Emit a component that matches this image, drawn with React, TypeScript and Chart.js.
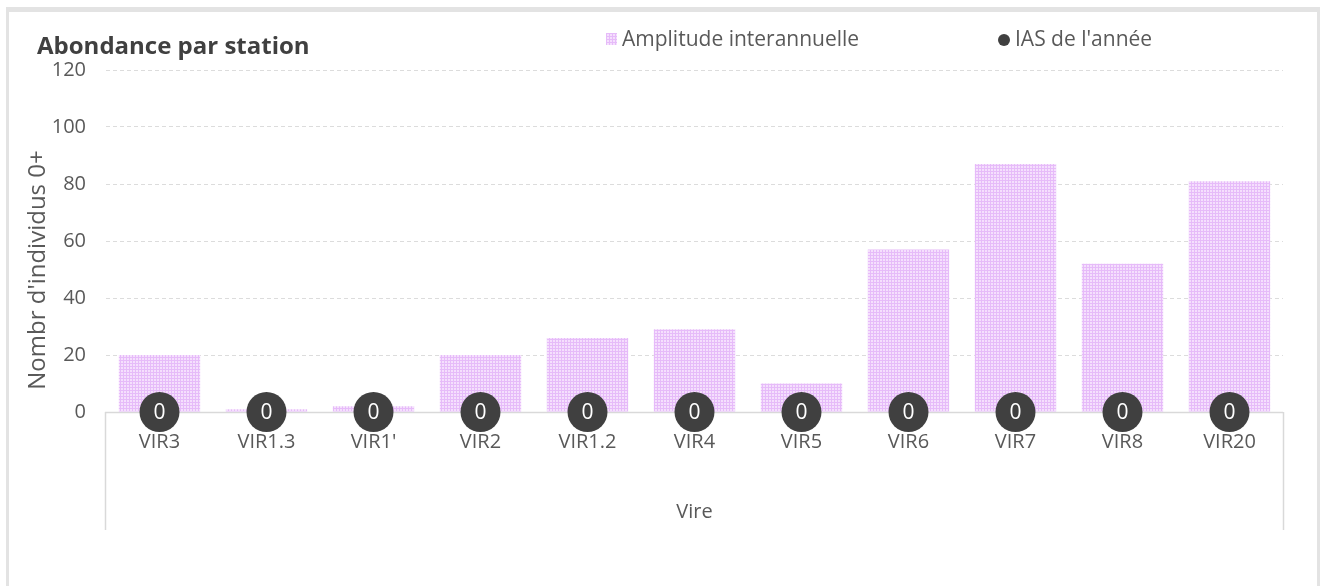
import React, { useEffect, useRef } from "react";
import { Chart, registerables } from "chart.js";

Chart.register(...registerables);

const categories = ["VIR3", "VIR1.3", "VIR1'", "VIR2", "VIR1.2", "VIR4", "VIR5", "VIR6", "VIR7", "VIR8", "VIR20"];
const amplitudeValues = [20, 1, 2, 20, 26, 29, 10, 57, 87, 52, 81];
const iasValues = [0, 0, 0, 0, 0, 0, 0, 0, 0, 0, 0];
const yTickValues = [0, 20, 40, 60, 80, 100, 120];
const chartTitle = "Abondance par station";
const xAxisTitle = "Vire";
const yAxisTitle = "Nombr d'individus 0+";
const legendLabels = ["Amplitude interannuelle", "IAS de l'année"];

const FONT = "'Open Sans', 'Noto Sans', sans-serif";
const TEXT = "#595959";
const DOT = "#404040";

function makePattern(ctx: CanvasRenderingContext2D) {
  const c = document.createElement("canvas");
  c.width = 3;
  c.height = 3;
  const p = c.getContext("2d")!;
  p.fillStyle = "#f5dffd";
  p.fillRect(0, 0, 3, 3);
  p.fillStyle = "#e6bbf9";
  p.fillRect(0, 0, 3, 1);
  p.fillRect(0, 0, 1, 3);
  return ctx.createPattern(c, "repeat")!;
}

export default function App() {
  const ref = useRef<HTMLCanvasElement>(null);

  useEffect(() => {
    document.body.style.margin = "0";
    const canvas = ref.current!;
    const ctx = canvas.getContext("2d")!;
    const pattern = makePattern(ctx);

    const decor = {
      id: "decor",
      beforeDraw(chart: any) {
        const c = chart.ctx;
        c.save();
        c.fillStyle = "#ffffff";
        c.fillRect(0, 0, chart.width, chart.height);
        c.fillStyle = "#e3e3e3";
        c.fillRect(6, 7, 1314, 5);
        c.fillRect(6, 7, 3, 600);
        c.fillRect(1317, 7, 3, 600);
        c.restore();
      },
      beforeDatasetsDraw(chart: any) {
        const c = chart.ctx;
        const a = chart.chartArea;
        const y0 = chart.scales.y.getPixelForValue(0);
        c.save();
        c.strokeStyle = "#d9d9d9";
        c.lineWidth = 1.5;
        c.beginPath();
        c.moveTo(a.left - 1, Math.round(y0) + 0.5);
        c.lineTo(a.right, Math.round(y0) + 0.5);
        c.moveTo(a.left - 0.5, y0);
        c.lineTo(a.left - 0.5, 530);
        c.moveTo(a.right + 0.5, y0);
        c.lineTo(a.right + 0.5, 530);
        c.stroke();
        c.restore();
      },
      afterDatasetsDraw(chart: any) {
        const c = chart.ctx;
        const meta = chart.getDatasetMeta(0);
        c.save();
        c.fillStyle = "#ffffff";
        c.font = `21px ${FONT}`;
        c.textAlign = "center";
        c.textBaseline = "middle";
        meta.data.forEach((pt: any, i: number) => {
          c.fillText(String(iasValues[i]), pt.x, pt.y + 1);
        });
        c.restore();
      },
      afterDraw(chart: any) {
        const c = chart.ctx;
        const a = chart.chartArea;
        c.save();
        // title
        c.fillStyle = "#404040";
        c.font = `bold 24px ${FONT}`;
        c.textAlign = "left";
        c.textBaseline = "middle";
        c.fillText(chartTitle, 37, 47);
        // legend
        c.font = `21px ${FONT}`;
        c.fillStyle = pattern;
        c.fillRect(606, 33, 11, 12);
        c.fillStyle = TEXT;
        c.fillText(legendLabels[0], 622, 40);
        c.fillStyle = DOT;
        c.beginPath();
        c.arc(1004, 40, 6, 0, Math.PI * 2);
        c.fill();
        c.fillStyle = TEXT;
        c.fillText(legendLabels[1], 1015, 40);
        // x title
        c.textAlign = "center";
        c.font = `20px ${FONT}`;
        c.fillText(xAxisTitle, (a.left + a.right) / 2, 512);
        // y title
        c.translate(38, 270);
        c.rotate(-Math.PI / 2);
        c.font = `24px ${FONT}`;
        c.fillText(yAxisTitle, 0, 0);
        c.restore();
      },
    };

    const chart = new Chart(ctx, {
      type: "bar",
      data: {
        labels: categories,
        datasets: [
          {
            type: "line",
            label: legendLabels[1],
            data: iasValues,
            showLine: false,
            pointRadius: 20,
            pointHoverRadius: 20,
            pointBackgroundColor: DOT,
            pointBorderColor: DOT,
            pointBorderWidth: 0,
            clip: false,
            order: 0,
          } as any,
          {
            type: "bar",
            label: legendLabels[0],
            data: amplitudeValues,
            backgroundColor: pattern,
            borderWidth: 0,
            barPercentage: 0.76,
            categoryPercentage: 1,
            order: 1,
          },
        ],
      },
      options: {
        responsive: false,
        animation: false,
        events: [],
        layout: { padding: { left: 0, right: 38, top: 70, bottom: 0 } },
        plugins: {
          legend: { display: false },
          title: { display: false },
          tooltip: { enabled: false },
        },
        scales: {
          x: {
            grid: { display: false, drawTicks: false },
            border: { display: false },
            ticks: {
              color: TEXT,
              font: { family: FONT, size: 20 },
              padding: 18,
              maxRotation: 0,
              autoSkip: false,
            },
            afterFit: (s: any) => {
              s.height = 174;
            },
          },
          y: {
            min: 0,
            max: 120,
            afterBuildTicks: (s: any) => {
              s.ticks = yTickValues.map((v) => ({ value: v }));
            },
            ticks: {
              color: TEXT,
              font: { family: FONT, size: 20 },
              padding: 20,
            },
            grid: { color: "#dcdcdc", drawTicks: false, lineWidth: 1 },
            border: { display: false, dash: [4, 3] },
            afterFit: (s: any) => {
              s.width = 106;
            },
          },
        },
      },
      plugins: [decor],
    });

    return () => chart.destroy();
  }, []);

  return (
    <div style={{ position: "relative", width: 1321, height: 586 }}>
      <canvas ref={ref} width={1321} height={586} style={{ display: "block" }} />
    </div>
  );
}
